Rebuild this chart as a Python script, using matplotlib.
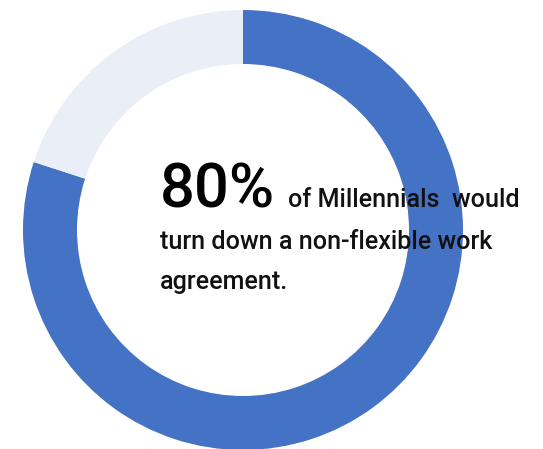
import matplotlib
matplotlib.use("Agg")
import matplotlib.pyplot as plt
from matplotlib import font_manager

# share of millennials who would turn down a non-flexible work agreement
labels = ["Would turn down", "Other"]
shares = [80, 20]
colors = ["#4472C4", "#E9EEF7"]

big_label = "80%"
text_lines = ["of Millennials  would",
              "turn down a non-flexible work",
              "agreement."]

W, H = 543, 449
fig = plt.figure(figsize=(W / 100, H / 100), dpi=100)
ax = fig.add_axes([0, 0, 1, 1])

# pick a narrow sans if there is one
names = {f.name for f in font_manager.fontManager.ttflist}
family = "Liberation Sans Narrow" if "Liberation Sans Narrow" in names else "Roboto"

# donut ring, centre and radii in pixels
cx, cy = 243, H - 230
ax.pie(shares, colors=colors, radius=220, center=(cx, cy),
       startangle=90, counterclock=False,
       wedgeprops=dict(width=54, linewidth=0))
ax.set_xlim(0, W)
ax.set_ylim(0, H)
ax.set_aspect("equal")
ax.set_axis_off()

t_big = ax.text(160, H - 207, big_label, fontsize=40, family=family,
                fontweight="medium", va="baseline", ha="left",
                color="black", zorder=5)
t1 = ax.text(288, H - 207, text_lines[0], fontsize=18, family=family,
             fontweight="medium", va="baseline", ha="left",
             color="#111111", zorder=5)
t2 = ax.text(160, H - 249, text_lines[1], fontsize=18, family=family,
             fontweight="medium", va="baseline", ha="left",
             color="#111111", zorder=5)
t3 = ax.text(160, H - 289, text_lines[2], fontsize=18, family=family,
             fontweight="medium", va="baseline", ha="left",
             color="#111111", zorder=5)

# scale the font sizes so the lines span their widths
fig.canvas.draw()
r = fig.canvas.get_renderer()
w_big = t_big.get_window_extent(r).width
t_big.set_fontsize(40 * 115 / w_big)
w2 = t2.get_window_extent(r).width
small = 18 * 333 / w2
for t in (t1, t2, t3):
    t.set_fontsize(small)

fig.savefig("out.png", dpi=100, facecolor="white")
